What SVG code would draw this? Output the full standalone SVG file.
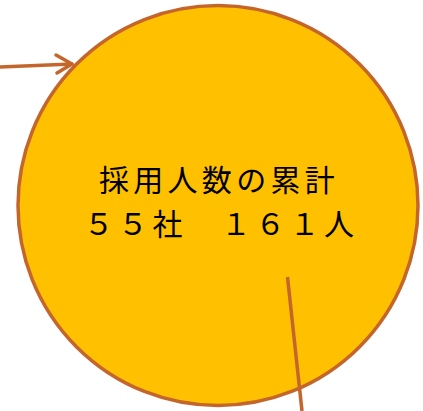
<svg xmlns="http://www.w3.org/2000/svg" width="423" height="411" viewBox="0 0 423 411">
<style>
.c{fill:#FFC000;stroke:#C4662C;stroke-width:3.5}
.ln{fill:none;stroke:#C4662C;stroke-width:3.5;stroke-linecap:round;stroke-linejoin:round}
.t{font-family:"Noto Sans CJK JP","Noto Sans CJK SC",sans-serif;font-size:30px;letter-spacing:4.3px;fill:#000;text-anchor:middle}
</style>
<g id="node-total">
<circle class="c" cx="218" cy="205.5" r="200"/>
<text class="t" x="219" y="191">採用人数の累計</text>
<text class="t" x="221" y="234.5">５５社　１６１人</text>
</g>
<g id="connectors">
<path class="ln" d="M0,67 L72,64"/>
<path class="ln" d="M56,55 L72,64 L57,73"/>
<path class="ln" d="M287.5,277 L302,411" style="stroke-linecap:butt"/>
</g>
</svg>
